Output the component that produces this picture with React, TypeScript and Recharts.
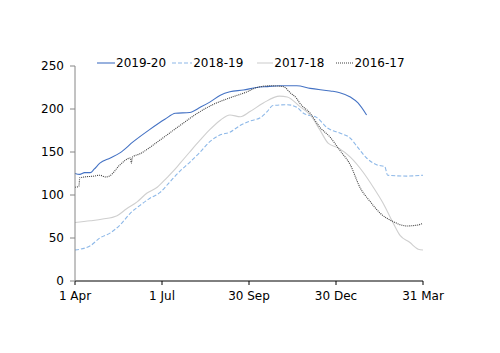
import React from "react";
import { LineChart, Line, XAxis, YAxis, Legend } from "recharts";

const seriesNames = ["2019-20", "2018-19", "2017-18", "2016-17"];
const xTickDays = [0, 91, 182, 273, 364];
const xTickLabels = ["1 Apr", "1 Jul", "30 Sep", "30 Dec", "31 Mar"];
const yTicks = [0, 50, 100, 150, 200, 250];

const days1920 = [0, 5, 10, 16, 20, 26, 37, 47, 61, 78, 94, 105, 120, 131, 141, 152, 162, 176, 190, 200, 214, 232, 246, 267, 277, 288, 296, 305];
const vals1920 = [125, 124, 126, 126, 130, 137, 143, 149, 162, 176, 188, 195, 196, 202, 208, 216, 220, 222, 225, 226, 227, 227, 224, 221, 219, 214, 207, 193];

const days1819 = [0, 16, 26, 37, 47, 58, 68, 78, 89, 99, 110, 120, 131, 141, 152, 162, 173, 183, 194, 201, 207, 222, 232, 239, 253, 264, 277, 288, 296, 305, 316, 324, 327, 347, 364];
const vals1819 = [36, 41, 50, 56, 65, 79, 88, 96, 103, 115, 128, 138, 150, 162, 170, 173, 181, 186, 190, 197, 204, 205, 202, 195, 190, 178, 172, 166, 155, 143, 135, 133, 123, 122, 123];

const days1718 = [0, 16, 29, 44, 54, 65, 75, 86, 96, 103, 110, 120, 131, 141, 152, 162, 173, 183, 197, 214, 222, 235, 246, 256, 265, 275, 288, 301, 312, 322, 333, 340, 350, 359, 364];
const vals1718 = [68, 70, 72, 76, 84, 92, 102, 109, 120, 128, 137, 150, 164, 176, 187, 193, 191, 197, 207, 215, 214, 203, 193, 176, 160, 155, 144, 127, 109, 91, 67, 53, 45, 37, 36];

const days1617 = [0, 4, 5, 10, 20, 26, 32, 36, 47, 58, 59, 60, 68, 89, 110, 128, 144, 162, 180, 190, 204, 218, 225, 232, 235, 246, 256, 267, 277, 288, 298, 309, 319, 333, 347, 358, 364];
const vals1617 = [109, 110, 120, 121, 122, 123, 121, 122, 135, 143, 137, 144, 148, 164, 181, 195, 205, 213, 220, 225, 227, 226, 219, 212, 207, 195, 179, 167, 152, 135, 109, 92, 79, 69, 64, 65, 67];

const build = (d: number[], v: number[]) => d.map((day, i) => ({ day, v: v[i] }));

const styles = [
  { color: "#4472C4", dash: undefined as string | undefined, width: 1.1, legendLen: 18, gap: 6 },
  { color: "#8DB8E8", dash: "4 2", width: 1.1, legendLen: 20, gap: 14 },
  { color: "#CFCFCF", dash: undefined, width: 1.1, legendLen: 16, gap: 12 },
  { color: "#404040", dash: "1 1", width: 1.1, legendLen: 17, gap: 0 },
];

const seriesData = [
  build(days1920, vals1920),
  build(days1819, vals1819),
  build(days1718, vals1718),
  build(days1617, vals1617),
];

const FONT = "DejaVu Sans, Verdana, sans-serif";

const LegendContent = () => (
  <div style={{ display: "flex", justifyContent: "flex-start", paddingLeft: 97, fontFamily: FONT, fontSize: 12, color: "#000" }}>
    {seriesNames.map((n, i) => (
      <div key={n} style={{ display: "flex", alignItems: "center", marginRight: styles[i].gap }}>
        <svg width={styles[i].legendLen} height={4} style={{ marginRight: 1 }}>
          <line x1={0} y1={2} x2={styles[i].legendLen} y2={2} stroke={styles[i].color} strokeWidth={1.1} strokeDasharray={styles[i].dash} />
        </svg>
        <span>{n}</span>
      </div>
    ))}
  </div>
);

export default function App() {
  return (
    <div style={{ position: "absolute", left: 0, top: 0, background: "#fff" }}>
      <LineChart width={500} height={353} margin={{ top: 66, right: 77, bottom: 42, left: 0 }}>
        <XAxis
          type="number"
          dataKey="day"
          domain={[0, 364]}
          ticks={xTickDays}
          tickFormatter={(d: number) => xTickLabels[xTickDays.indexOf(d)]}
          interval={0}
          allowDuplicatedCategory={false}
          axisLine={{ stroke: "#000" }}
          tickLine={{ stroke: "#000" }}
          tickSize={4}
          tickMargin={6}
          tick={{ fill: "#000", fontSize: 12, fontFamily: FONT }}
          height={30}
        />
        <YAxis
          type="number"
          domain={[0, 250]}
          ticks={yTicks}
          interval={0}
          width={75}
          axisLine={{ stroke: "#868686" }}
          tickLine={{ stroke: "#868686" }}
          tickSize={5}
          tickMargin={6}
          tick={{ fill: "#000", fontSize: 12, fontFamily: FONT }}
        />
        <Legend
          verticalAlign="middle"
          layout="horizontal"
          align="center"
          content={<LegendContent />}
          wrapperStyle={{ top: 56, left: 0, width: 500 }}
        />
        {seriesData.map((d, i) => (
          <Line
            key={seriesNames[i]}
            name={seriesNames[i]}
            data={d}
            dataKey="v"
            type="monotone"
            stroke={styles[i].color}
            strokeWidth={styles[i].width}
            strokeDasharray={styles[i].dash}
            dot={false}
            activeDot={false}
            isAnimationActive={false}
          />
        ))}
      </LineChart>
    </div>
  );
}
